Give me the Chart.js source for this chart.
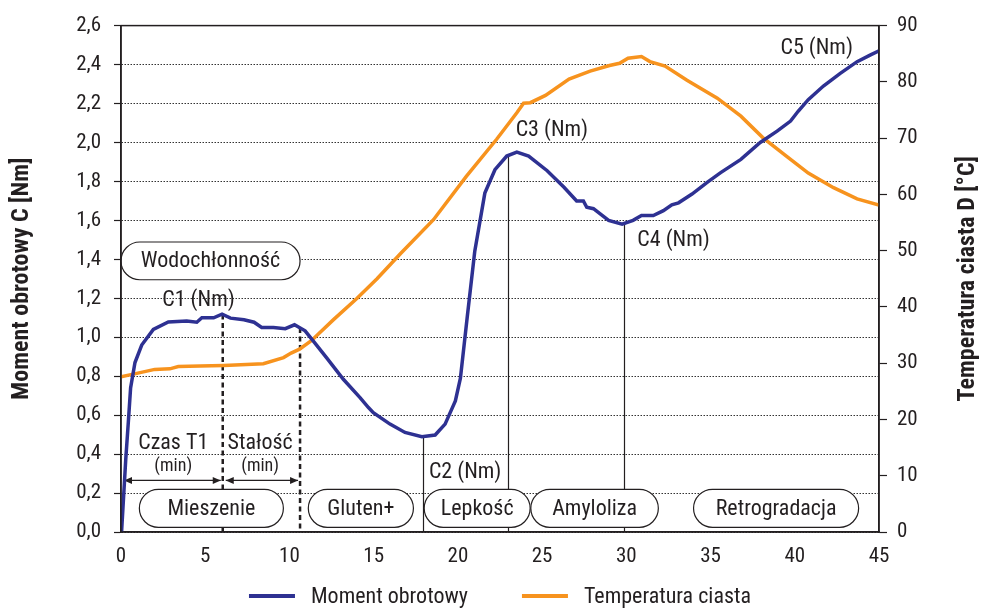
<!DOCTYPE html>
<html>
<head>
<meta charset="utf-8">
<script src="https://cdn.jsdelivr.net/npm/chart.js@4.4.0/dist/chart.umd.min.js"></script>
<style>
  html, body { margin: 0; padding: 0; background: #fff; }
</style>
</head>
<body>
<canvas id="myChart" width="982" height="608"></canvas>
<script>
// czas [min] i moment obrotowy [Nm]
const czasMoment = [0, 0.04, 0.14, 0.28, 0.44, 0.57, 0.83, 1.23, 1.92, 2.81, 3.9, 4.5, 4.8, 5.5, 6.0, 6.5, 7.3, 7.9, 8.35, 9.05, 9.75, 10.3, 10.93, 11.42, 12.21, 13.2, 14.19, 14.69, 14.98, 15.97, 16.86, 17.86, 18.65, 19.24, 19.85, 20.15, 20.55, 21.0, 21.6, 22.2, 22.9, 23.5, 24.2, 25.3, 26.3, 27.05, 27.45, 27.65, 28.05, 28.45, 28.95, 29.75, 30.4, 30.9, 31.6, 32.2, 32.7, 33.1, 33.9, 34.8, 35.6, 36.8, 37.95, 38.95, 39.75, 40.2, 40.8, 41.7, 42.7, 43.7, 44.5, 45];
const moment = [0, 0.01, 0.16, 0.37, 0.57, 0.74, 0.87, 0.96, 1.04, 1.078, 1.083, 1.077, 1.10, 1.10, 1.118, 1.098, 1.09, 1.077, 1.05, 1.05, 1.044, 1.064, 1.033, 0.98, 0.894, 0.784, 0.69, 0.639, 0.613, 0.554, 0.511, 0.489, 0.498, 0.554, 0.673, 0.79, 1.10, 1.44, 1.74, 1.86, 1.93, 1.95, 1.93, 1.855, 1.77, 1.70, 1.70, 1.667, 1.66, 1.633, 1.60, 1.58, 1.60, 1.625, 1.625, 1.65, 1.68, 1.69, 1.735, 1.795, 1.845, 1.913, 2.00, 2.058, 2.11, 2.16, 2.22, 2.29, 2.355, 2.415, 2.45, 2.47];

// czas [min] i temperatura ciasta [°C]
const czasTemp = [0, 0.8, 2.0, 2.9, 3.4, 4.7, 6.1, 8.45, 9.65, 10.1, 10.6, 11.3, 12.6, 14.0, 15.2, 16.6, 18.55, 20.5, 22.3, 23.5, 23.9, 24.3, 25.2, 26.6, 27.85, 29.0, 29.6, 30.1, 30.9, 31.4, 32.3, 33.6, 35.4, 36.8, 38.1, 39.5, 40.8, 42.3, 43.7, 45];
const temperatura = [27.6, 28.1, 28.9, 29.0, 29.4, 29.5, 29.6, 29.9, 31.0, 31.8, 32.5, 34.0, 37.7, 41.5, 45.0, 49.5, 55.5, 63.2, 69.8, 74.5, 76.2, 76.3, 77.6, 80.5, 81.9, 82.9, 83.3, 84.2, 84.5, 83.6, 82.8, 80.3, 77.1, 73.9, 70.1, 66.8, 63.8, 61.2, 59.2, 58.1];

const serie = ['Moment obrotowy', 'Temperatura ciasta'];

// fazy (ramki z opisem): od, do [min], od, do [Nm]
const fazy = [
  { nazwa: 'Wodochłonność', od: 0, do: 10.63, dol: 1.295, gora: 1.489 },
  { nazwa: 'Mieszenie', od: 1.09, do: 9.64, dol: 0.024, gora: 0.219 },
  { nazwa: 'Gluten+', od: 11.12, do: 17.36, dol: 0.024, gora: 0.219 },
  { nazwa: 'Lepkość', od: 18.0, do: 24.29, dol: 0.024, gora: 0.219 },
  { nazwa: 'Amyloliza', od: 24.33, do: 31.9, dol: 0.024, gora: 0.219 },
  { nazwa: 'Retrogradacja', od: 33.99, do: 43.79, dol: 0.024, gora: 0.219 }
];

// punkty charakterystyczne C2..C4 (linie ciągłe) i granice T1 / stałości (linie przerywane)
const punktyC = [17.9, 23.0, 29.85];
const granice = [6.04, 10.63];
const opisyC = [
  { t: 'C1 (Nm)', x: 4.6, y: 1.191 },
  { t: 'C2 (Nm)', x: 20.43, y: 0.307 },
  { t: 'C3 (Nm)', x: 25.58, y: 2.063 },
  { t: 'C4 (Nm)', x: 32.8, y: 1.497 },
  { t: 'C5 (Nm)', x: 41.3, y: 2.483 }
];
const strzalkiY = 0.265;

const FONT = '"Liberation Sans Narrow", "Roboto Condensed", "DejaVu Sans Condensed", "Liberation Sans", sans-serif';
const INK = '#231f20';
const BLUE = '#2e3192';
const ORANGE = '#f7931e';

function momentW(t) {
  for (let i = 1; i < czasMoment.length; i++) {
    if (t <= czasMoment[i]) {
      const f = (t - czasMoment[i - 1]) / (czasMoment[i] - czasMoment[i - 1]);
      return moment[i - 1] + f * (moment[i] - moment[i - 1]);
    }
  }
  return moment[moment.length - 1];
}

function arrowHead(ctx, x, y, dir) {
  ctx.beginPath();
  ctx.moveTo(x, y);
  ctx.lineTo(x - dir * 8, y - 3.5);
  ctx.lineTo(x - dir * 8, y + 3.5);
  ctx.closePath();
  ctx.fill();
}

const opisy = {
  id: 'opisy',
  beforeDatasetsDraw(chart) {
    const { ctx, chartArea: a, scales: { x, y } } = chart;
    const px = v => x.getPixelForValue(v);
    const py = v => y.getPixelForValue(v);
    ctx.save();
    ctx.strokeStyle = INK;
    ctx.fillStyle = INK;

    // linie pionowe w punktach C2, C3, C4
    ctx.lineWidth = 1.2;
    punktyC.forEach(t => {
      ctx.beginPath();
      ctx.moveTo(Math.round(px(t)) + 0.5, py(momentW(t)));
      ctx.lineTo(Math.round(px(t)) + 0.5, a.bottom);
      ctx.stroke();
    });

    // granice czasu T1 i stałości
    ctx.lineWidth = 2.5;
    ctx.setLineDash([5, 3.5]);
    granice.forEach(t => {
      ctx.beginPath();
      ctx.moveTo(px(t), py(momentW(t)));
      ctx.lineTo(px(t), a.bottom);
      ctx.stroke();
    });
    ctx.setLineDash([]);

    // strzałki
    ctx.lineWidth = 1.2;
    const ay = py(strzalkiY);
    const odcinki = [[0, granice[0]], [granice[0], granice[1]]];
    odcinki.forEach(([t0, t1]) => {
      const x0 = px(t0) + 3, x1 = px(t1) - 2;
      ctx.beginPath();
      ctx.moveTo(x0, ay);
      ctx.lineTo(x1, ay);
      ctx.stroke();
      arrowHead(ctx, x0, ay, -1);
      arrowHead(ctx, x1, ay, 1);
    });

    // ramki faz
    ctx.font = '22px ' + FONT;
    ctx.textAlign = 'center';
    ctx.textBaseline = 'middle';
    fazy.forEach(f => {
      const x0 = px(f.od), x1 = px(f.do), y0 = py(f.gora), y1 = py(f.dol);
      const r = (y1 - y0) / 2;
      ctx.beginPath();
      ctx.moveTo(x0 + r, y0);
      ctx.lineTo(x1 - r, y0);
      ctx.arc(x1 - r, y0 + r, r, -Math.PI / 2, Math.PI / 2);
      ctx.lineTo(x0 + r, y1);
      ctx.arc(x0 + r, y0 + r, r, Math.PI / 2, Math.PI * 1.5);
      ctx.closePath();
      ctx.fillStyle = '#fff';
      ctx.fill();
      ctx.lineWidth = 1.2;
      ctx.stroke();
      ctx.fillStyle = INK;
      ctx.fillText(f.nazwa, (x0 + x1) / 2, (y0 + y1) / 2 + 1);
    });

    // opisy czasów
    ctx.fillText('Czas T1', px(3.1), py(0.452));
    ctx.fillText('Stałość', px(8.26), py(0.452));
    ctx.font = '18px ' + FONT;
    ctx.fillText('(min)', px(3.1), py(0.336));
    ctx.fillText('(min)', px(8.26), py(0.336));

    // punkty C
    ctx.font = '22px ' + FONT;
    opisyC.forEach(o => ctx.fillText(o.t, px(o.x), py(o.y)));
    ctx.restore();
  },
  afterDraw(chart) {
    const { ctx, chartArea: a } = chart;
    ctx.save();
    // ramka wykresu
    ctx.strokeStyle = INK;
    ctx.lineWidth = 1.5;
    ctx.strokeRect(a.left, a.top, a.right - a.left, a.bottom - a.top);

    // tytuły osi (oba czytane od dołu)
    ctx.fillStyle = INK;
    ctx.font = 'bold 24px ' + FONT;
    ctx.textAlign = 'center';
    ctx.textBaseline = 'middle';
    const cy = (a.top + a.bottom) / 2;
    [[22, 'Moment obrotowy C [Nm]'], [968, 'Temperatura ciasta D [°C]']].forEach(([tx, txt]) => {
      ctx.save();
      ctx.translate(tx, cy);
      ctx.rotate(-Math.PI / 2);
      ctx.fillText(txt, 0, 0);
      ctx.restore();
    });

    // legenda
    ctx.font = '22px ' + FONT;
    ctx.textAlign = 'left';
    const probka = 46, odstep = 16, przerwa = 54;
    const items = chart.data.datasets.map(d => ({ d, w: probka + odstep + ctx.measureText(d.label).width }));
    const total = items.reduce((s, i) => s + i.w, 0) + przerwa * (items.length - 1);
    let lx = (a.left + a.right) / 2 - total / 2;
    const ly = 596;
    items.forEach(i => {
      ctx.strokeStyle = i.d.borderColor;
      ctx.lineWidth = 4;
      ctx.beginPath();
      ctx.moveTo(lx, ly);
      ctx.lineTo(lx + probka, ly);
      ctx.stroke();
      ctx.fillText(i.d.label, lx + probka + odstep, ly + 1);
      lx += i.w + przerwa;
    });
    ctx.restore();
  }
};

const ctx = document.getElementById('myChart').getContext('2d');
const myChart = new Chart(ctx, {
  type: 'line',
  data: {
    datasets: [{
      label: serie[0],
      data: czasMoment.map((t, i) => ({ x: t, y: moment[i] })),
      borderColor: BLUE,
      borderWidth: 3.5,
      pointRadius: 0,
      tension: 0,
      yAxisID: 'y'
    }, {
      label: serie[1],
      data: czasTemp.map((t, i) => ({ x: t, y: temperatura[i] })),
      borderColor: ORANGE,
      borderWidth: 3.5,
      pointRadius: 0,
      tension: 0,
      yAxisID: 'y1'
    }]
  },
  options: {
    responsive: false,
    animation: false,
    devicePixelRatio: 1,
    layout: { padding: { top: 22, left: 0, right: 0, bottom: 0 } },
    plugins: {
      legend: { display: false },
      tooltip: { enabled: false }
    },
    scales: {
      x: {
        type: 'linear',
        min: 0,
        max: 45,
        ticks: { stepSize: 5, color: INK, font: { family: FONT, size: 21 }, padding: 12 },
        grid: { display: false, drawTicks: false },
        border: { color: INK, width: 1.5 },
        afterFit(s) { s.height = 76; }
      },
      y: {
        position: 'left',
        min: 0,
        max: 2.6,
        ticks: {
          stepSize: 0.2,
          color: INK,
          font: { family: FONT, size: 21 },
          padding: 13,
          callback: v => v.toFixed(1).replace('.', ',')
        },
        grid: { color: '#333', lineWidth: 1, tickLength: 7, tickColor: INK, tickWidth: 1.2 },
        border: { color: INK, width: 1.5, dash: [1.5, 1.5] },
        afterFit(s) { s.width = 121; }
      },
      y1: {
        position: 'right',
        min: 0,
        max: 90,
        ticks: { stepSize: 10, color: INK, font: { family: FONT, size: 21 }, padding: 10 },
        grid: { drawOnChartArea: false, tickLength: 8, tickColor: INK, tickWidth: 1.2 },
        border: { color: INK, width: 1.5 },
        afterFit(s) { s.width = 103; }
      }
    }
  },
  plugins: [opisy]
});
</script>
</body>
</html>
